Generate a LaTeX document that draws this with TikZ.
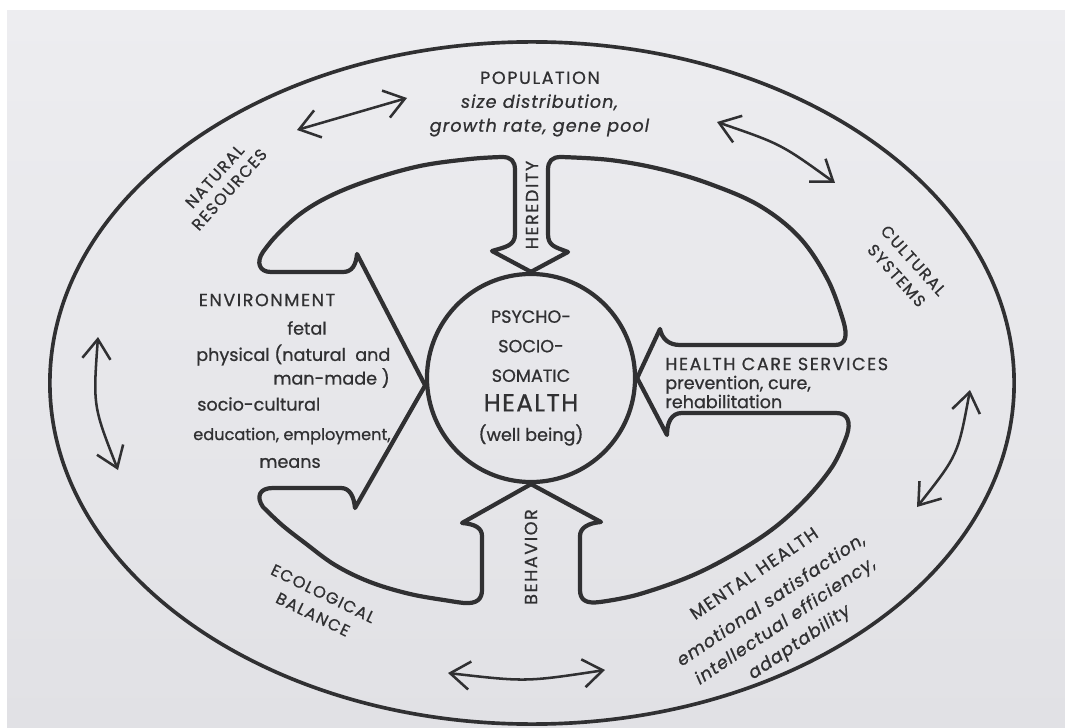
\documentclass[tikz,border=0pt]{standalone}
\usepackage{fontspec}
\setmainfont{Poppins}[FakeBold=0.8]
\newfontfamily\spacedfont{Poppins}[LetterSpace=9,FakeBold=0.8]
\newfontfamily\widefont{Poppins}[LetterSpace=6,FakeBold=0.8]
\usetikzlibrary{arrows.meta}

\definecolor{ink}{RGB}{48,48,50}
\definecolor{paper}{RGB}{237,237,240}
\definecolor{paperlow}{RGB}{225,225,229}

\tikzset{
  rim/.style={draw=ink, line width=2.6pt},
  ring/.style={draw=ink, line width=3pt, line join=round, line cap=round},
  link/.style={draw=ink, line width=1.8pt,
    {Straight Barb[length=14pt,width=20pt]}-{Straight Barb[length=14pt,width=20pt]}},
  lbl/.style={text=ink, inner sep=0pt, font=\fontsize{12.5}{17}\selectfont},
  caplbl/.style={lbl, font=\fontsize{12}{15}\selectfont\spacedfont}
}

\begin{document}
\begin{tikzpicture}[x=0.025cm,y=-0.025cm]

\fill[white] (0,0) rectangle (1065,728);
\shade[top color=paper, bottom color=paperlow] (7,11) rectangle (1065,728);
\useasboundingbox (0,0) rectangle (1065,728);

% outer ring
\draw[rim] (532,383) ellipse [x radius=12.05cm, y radius=8.525cm];

% centre
\node[circle, draw=ink, line width=3pt, minimum size=5.2cm, inner sep=0pt,
      align=center, text=ink, font=\fontsize{12.5}{21}\selectfont] (hub) at (531,378)
  {PSYCHO-\\SOCIO-\\SOMATIC\\{\fontsize{17.5}{21}\selectfont\widefont HEALTH}\\(well being)};

% four pieces of the inner ring, each from one arrow tip to the next
\draw[ring] (hub.north) -- (492,251) .. controls (505,247) and (515,246) .. (515,234)
  -- (515,170) .. controls (515,161) and (511,157) .. (502,157)
  -- plot[smooth, tension=0.6] coordinates {(502,157) (470,159) (420,166) (370,180) (330,196) (300,214) (276,236) (263,252)}
  .. controls (256,262) and (259,272) .. (271,272)
  -- (343,272) .. controls (352,272) and (356,265) .. (357,254) -- (hub.184);

\draw[ring] (hub.north) -- (568,252) .. controls (555,247) and (548,246) .. (548,234)
  -- (548,170) .. controls (548,161) and (552,157) .. (561,157)
  -- plot[smooth, tension=0.6] coordinates {(561,157) (610,160) (660,169) (710,184) (760,206) (800,238) (828,280) (843,320)}
  .. controls (848,336) and (846,345) .. (835,345)
  -- (680,345) .. controls (669,345) and (662,339) .. (660,329) -- (hub.east);

\draw[ring] (hub.east) -- (667,435) .. controls (667,423) and (671,413) .. (682,413)
  -- (836,413) .. controls (848,413) and (851,422) .. (847,435)
  -- plot[smooth, tension=0.6] coordinates {(847,435) (832,467) (800,505) (760,538) (700,572) (640,594) (600,602)}
  .. controls (586,604) and (580,600) .. (580,590)
  -- (580,536) .. controls (580,528) and (588,523) .. (601,522) -- (hub.south);

\draw[ring] (hub.184) -- (355,508) .. controls (354,497) and (350,488) .. (341,488)
  -- (273,488) .. controls (259,488) and (256,497) .. (263,507)
  -- plot[smooth, tension=0.6] coordinates {(263,507) (282,525) (305,543) (335,565) (370,582) (410,594) (450,601) (464,603)}
  .. controls (477,604) and (482,599) .. (482,590)
  -- (482,536) .. controls (482,528) and (475,524) .. (462,523) -- (hub.south);

% double arrows between the outer sectors
\coordinate (nrA) at (297,130); \coordinate (nrB) at (407,98);
\coordinate (csA) at (717,122); \coordinate (csB) at (835,183);
\coordinate (evA) at (98,337);  \coordinate (evB) at (118,470);
\coordinate (mhA) at (970,390); \coordinate (mhB) at (917,507);
\coordinate (ebA) at (448,673); \coordinate (ebB) at (605,670);
\draw[link] (nrA) -- (nrB);
\draw[link] (csA) .. controls (781,144) .. (csB);
\draw[link] (evA) .. controls (93,406) .. (evB);
\draw[link] (mhA) .. controls (958,455) .. (mhB);
\draw[link] (ebA) .. controls (526,682) .. (ebB);

% labels
\node[lbl, align=center, font=\fontsize{12.5}{17}\selectfont\widefont] (pop) at (540,104)
  {{\spacedfont POPULATION}\\\textit{size distribution,}\\\textit{growth rate, gene pool}};

\node[lbl, font=\fontsize{12.5}{17}\selectfont\spacedfont] (env) at (267,300) {ENVIRONMENT};
\node[lbl] (fetal) at (307,328) {fetal};
\node[lbl, anchor=west] (phys) at (196,355) {physical (natural\ \ and};
\node[lbl, anchor=east] (made) at (390,378) {man-made )};
\node[lbl, anchor=west] (socio) at (197,404) {socio-cultural};
\node[lbl, anchor=west, font=\fontsize{11.5}{17}\selectfont] (edu) at (193,436) {education, employment,};
\node[lbl] (means) at (290,463) {means};

\node[lbl, align=left, anchor=west, font=\fontsize{12.5}{13.5}\selectfont] (care) at (665,383)
  {{\spacedfont HEALTH CARE SERVICES}\\prevention, cure,\\rehabilitation};

\node[caplbl, rotate=90, font=\fontsize{12.5}{15}\selectfont\spacedfont] (hered) at (532,205) {HEREDITY};
\node[caplbl, rotate=90, font=\fontsize{12.5}{15}\selectfont\spacedfont] (behav) at (531,557) {BEHAVIOR};

\node[caplbl, align=center, rotate=48, font=\fontsize{11.5}{14}\selectfont\spacedfont] (natres) at (222,183) {NATURAL\\RESOURCES};
\node[caplbl, align=center, rotate=-48, font=\fontsize{11.5}{16}\selectfont\spacedfont] (cultsys) at (905,268) {CULTURAL\\SYSTEMS};
\node[caplbl, align=center, rotate=-26, font=\fontsize{11.5}{16.5}\selectfont\spacedfont] (ecobal) at (318,604) {ECOLOGICAL\\BALANCE};

\node[lbl, align=center, rotate=34, font=\fontsize{12.5}{18}\selectfont\widefont] (mental) at (778,609)
  {{\spacedfont MENTAL HEALTH}\\[4pt]\textit{emotional satisfaction,}\\\textit{intellectual efficiency,}\\\textit{adaptability}};

\end{tikzpicture}
\end{document}
